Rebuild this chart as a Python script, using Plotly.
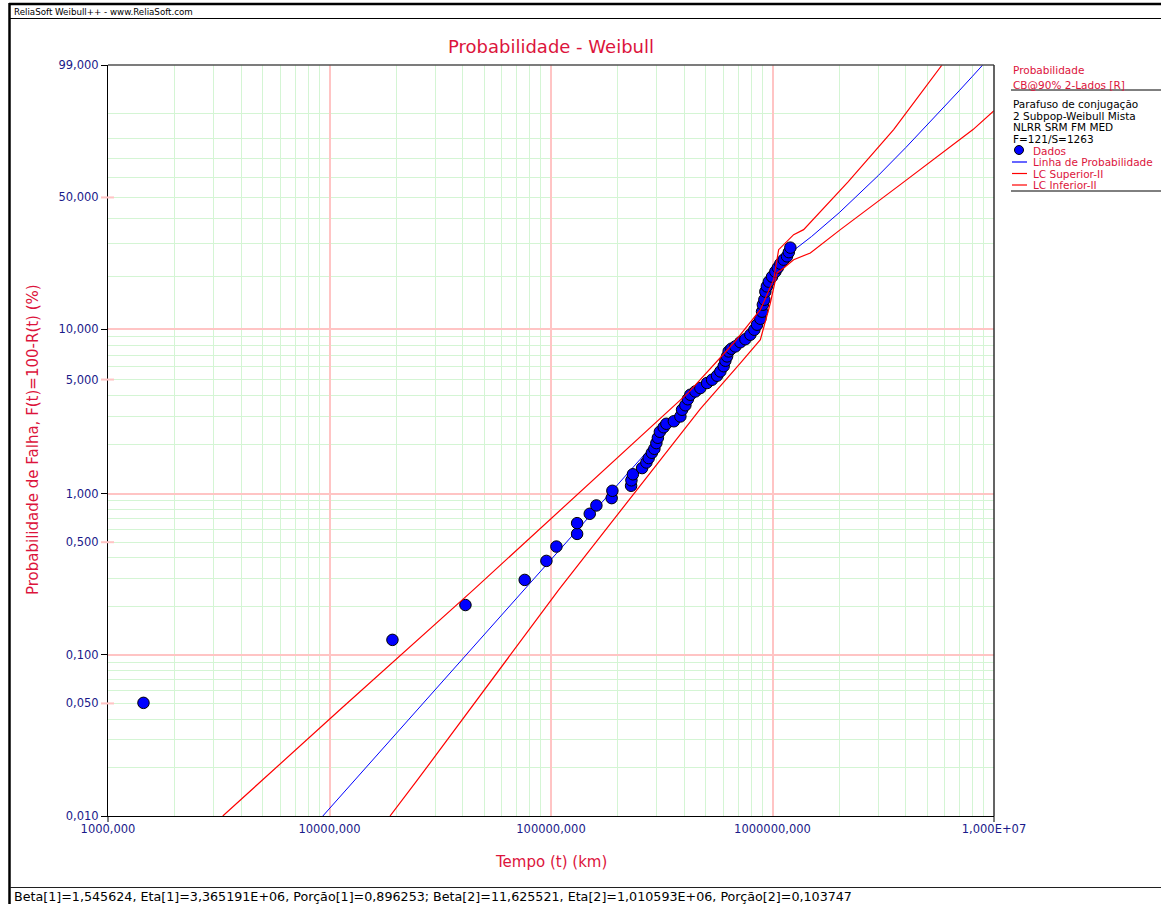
import numpy as np
import plotly.graph_objects as go

# ---------------- data ----------------
# failure points (Tempo in km, F(t) in %)
dados_t = [1446, 19240, 41090, 76070, 95330, 105800, 131200, 131200, 149600, 160300,
           187900, 189300, 229900, 230700, 234300, 257800, 269600, 276100, 285400, 292900,
           299000, 303800, 310100, 322600, 331800, 358700, 383800, 390600, 404200, 414800,
           425700, 448500, 472400, 506500, 533600, 562000, 581600, 601900, 612600, 623600,
           634000, 652100, 679700, 716000, 754100, 794300, 828200, 851800, 881500, 897100,
           904600, 918800, 928400, 943000, 962800, 995400, 1030000, 1057000, 1085000, 1123000,
           1163000, 1185000, 1204000]
dados_f = [0.0504, 0.124, 0.204, 0.292, 0.383, 0.470, 0.563, 0.656, 0.750, 0.844,
           0.937, 1.040, 1.117, 1.207, 1.315, 1.436, 1.555, 1.655, 1.784, 1.888,
           2.047, 2.207, 2.402, 2.560, 2.689, 2.786, 2.981, 3.276, 3.490, 3.796,
           4.044, 4.235, 4.441, 4.763, 4.987, 5.273, 5.598, 6.017, 6.493, 6.891,
           7.382, 7.662, 7.908, 8.376, 8.728, 9.280, 9.932, 10.63, 11.52, 12.66,
           13.89, 14.84, 16.49, 17.66, 18.77, 20.01, 21.32, 22.43, 23.58, 24.78,
           25.81, 27.17, 28.69]

# probability line
linha_t = [9331, 10000, 20000, 50000, 100000, 200000, 300000, 400000, 500000, 600000,
           700000, 800000, 900000, 950000, 1000000, 1050000, 1100000, 1150000, 1200000,
           1300000, 1500000, 2000000, 3000000, 4000000, 5000000, 6000000, 7000000,
           8000000, 9000000]
linha_f = [0.0100, 0.01113, 0.0325, 0.1339, 0.3902, 1.135, 2.111, 3.272, 4.587, 6.049,
           7.720, 9.884, 13.32, 15.83, 18.83, 21.85, 24.24, 25.78, 26.85,
           28.78, 32.72, 42.71, 61.2, 75.72, 85.83, 92.22, 95.97,
           98.02, 99.08]

# upper confidence bound
sup_t = [3298, 11205, 44630, 195300, 418300, 667700, 881500, 1012000, 1066000,
         1246000, 1382000, 2199000, 3523000, 5826000]
sup_f = [0.0100, 0.0460, 0.2533, 1.616, 4.176, 8.285, 13.00, 19.26, 28.00,
         33.45, 35.43, 58.07, 83.94, 99.0]

# lower confidence bound
inf_t = [18760, 24950, 108300, 311800, 472400, 716000, 881500, 977900, 1048000,
         1123000, 1246000, 1482000, 2025000, 3776000, 8040000, 10000000]
inf_f = [0.0100, 0.01674, 0.2533, 1.616, 3.322, 6.290, 8.668, 14.21, 20.98,
         22.34, 24.78, 26.91, 35.43, 56.51, 83.94, 90.9]

# axis ticks
y_tick_pct = [0.01, 0.05, 0.1, 0.5, 1, 5, 10, 50, 99]
y_tick_text = ["0,010", "0,050", "0,100", "0,500", "1,000", "5,000", "10,000", "50,000", "99,000"]
y_pink_tick_pct = [0.05, 0.5, 5, 50]
y_major_grid_pct = [0.1, 1, 10]
y_minor_grid_pct = [0.02, 0.03, 0.04, 0.05, 0.06, 0.07, 0.08, 0.09,
                    0.2, 0.3, 0.4, 0.5, 0.6, 0.7, 0.8, 0.9,
                    2, 3, 4, 5, 6, 7, 8, 9,
                    20, 30, 40, 50, 60, 70, 80, 90]
x_tick_vals = [1e3, 1e4, 1e5, 1e6, 1e7]
x_tick_text = ["1000,000", "10000,000", "100000,000", "1000000,000", "1,000E+07"]
x_minor_grid = [2e3, 3e3, 4e3, 5e3, 6e3, 7e3, 8e3, 9e3,
                2e4, 3e4, 4e4, 5e4, 6e4, 7e4, 8e4, 9e4,
                2e5, 3e5, 4e5, 5e5, 6e5, 7e5, 8e5, 9e5,
                2e6, 3e6, 4e6, 5e6, 6e6, 7e6, 8e6, 9e6]

params_text = ("Beta[1]=1,545624, Eta[1]=3,365191E+06, Porção[1]=0,896253; "
               "Beta[2]=11,625521, Eta[2]=1,010593E+06, Porção[2]=0,103747")


# ---------------- Weibull probability scale ----------------
def wb(pct):
    p = np.asarray(pct, dtype=float) / 100.0
    return np.log(-np.log(1.0 - p))


W, H = 1161, 904
L, R, T, B = 108, 994, 65, 816


def px(x):
    return (x - L) / (R - L)


def py(y):
    return (B - y) / (B - T)


FONT = "DejaVu Sans"
CRIMSON = "#DC143C"
NAVY = "#1a1a8a"
GREEN = "#d4f5d4"
PINK = "#ffc4c4"

ymin, ymax = float(wb(0.01)), float(wb(99))

fig = go.Figure()
fig.add_trace(go.Scatter(x=[], y=[], yaxis="y2", showlegend=False, hoverinfo="skip"))
fig.add_trace(go.Scatter(x=linha_t, y=wb(linha_f), mode="lines",
                         line=dict(color="#0000ff", width=1), name="Linha de Probabilidade"))
fig.add_trace(go.Scatter(x=dados_t, y=wb(dados_f), mode="markers",
                         marker=dict(color="#0000ff", size=11.5, line=dict(color="black", width=1)),
                         name="Dados"))
fig.add_trace(go.Scatter(x=sup_t, y=wb(sup_f), mode="lines",
                         line=dict(color="#ff0000", width=1.2), name="LC Superior-II"))
fig.add_trace(go.Scatter(x=inf_t, y=wb(inf_f), mode="lines",
                         line=dict(color="#ff0000", width=1.2), name="LC Inferior-II"))

shapes = []
# plot frame top / right
shapes.append(dict(type="line", xref="paper", yref="paper", x0=0, x1=1, y0=1, y1=1,
                   line=dict(color="#505050", width=1.5)))
shapes.append(dict(type="line", xref="paper", yref="paper", x0=1, x1=1, y0=0, y1=1,
                   line=dict(color="#303030", width=1.5)))
# x end ticks
for xv in (0, 1):
    shapes.append(dict(type="line", xref="paper", yref="paper", x0=xv, x1=xv, y0=0, y1=py(822),
                       line=dict(color="black", width=1)))
# pink y ticks
for v in y_pink_tick_pct:
    shapes.append(dict(type="line", xref="paper", yref="y", x0=px(101), x1=px(114),
                       y0=float(wb(v)), y1=float(wb(v)), line=dict(color=PINK, width=2)))
# outer frame
shapes.append(dict(type="line", xref="paper", yref="paper", x0=px(9), x1=px(1161), y0=py(4), y1=py(4),
                   line=dict(color="black", width=2.5)))
shapes.append(dict(type="line", xref="paper", yref="paper", x0=px(9.5), x1=px(9.5), y0=py(3), y1=py(904),
                   line=dict(color="black", width=2.5)))
shapes.append(dict(type="line", xref="paper", yref="paper", x0=px(10), x1=px(1161), y0=py(18.5), y1=py(18.5),
                   line=dict(color="black", width=1)))
shapes.append(dict(type="line", xref="paper", yref="paper", x0=px(10), x1=px(1161), y0=py(887.5), y1=py(887.5),
                   line=dict(color="#202020", width=1)))
# legend rules
for yy in (90, 191):
    shapes.append(dict(type="line", xref="paper", yref="paper", x0=px(1011), x1=px(1161), y0=py(yy), y1=py(yy),
                       line=dict(color="black", width=1)))
# legend symbols
shapes.append(dict(type="circle", xref="paper", yref="paper", x0=px(1014.5), x1=px(1023.5),
                   y0=py(154.5), y1=py(145.5), fillcolor="#0000ff", line=dict(color="black", width=1)))
for yy, col in ((162, "#0000ff"), (173.5, "#ff0000"), (185, "#ff0000")):
    shapes.append(dict(type="line", xref="paper", yref="paper", x0=px(1012), x1=px(1027), y0=py(yy), y1=py(yy),
                       line=dict(color=col, width=1.2)))

ann = []
ann.append(dict(text="ReliaSoft Weibull++ - www.ReliaSoft.com", x=px(12), y=py(12), xanchor="left",
                yanchor="middle", font=dict(size=8.7, color="black")))
ann.append(dict(text="Probabilidade - Weibull", x=0.5, y=py(47), xanchor="center", yanchor="middle",
                font=dict(size=18, color=CRIMSON)))
ann.append(dict(text="Probabilidade de Falha, F(t)=100-R(t) (%)", x=px(33), y=py(440), textangle=-90,
                xanchor="center", yanchor="middle", font=dict(size=15, color=CRIMSON)))
ann.append(dict(text="Tempo (t) (km)", x=0.5, y=py(862), xanchor="center", yanchor="middle",
                font=dict(size=15, color=CRIMSON)))
ann.append(dict(text=params_text, x=px(12), y=py(896), xanchor="left", yanchor="middle",
                font=dict(size=12.7, color="black")))
leg = [("Probabilidade", 70.5, CRIMSON, 1011), ("CB@90% 2-Lados [R]", 84.5, CRIMSON, 1011),
       ("Parafuso de conjugação", 103.5, "black", 1011), ("2 Subpop-Weibull Mista", 115.5, "black", 1011),
       ("NLRR SRM FM MED", 127, "black", 1011), ("F=121/S=1263", 138.5, "black", 1011),
       ("Dados", 150.5, CRIMSON, 1031), ("Linha de Probabilidade", 162, CRIMSON, 1031),
       ("LC Superior-II", 173.5, CRIMSON, 1031), ("LC Inferior-II", 185, CRIMSON, 1031)]
for txt, yy, col, xx in leg:
    ann.append(dict(text=txt, x=px(xx), y=py(yy), xanchor="left", yanchor="middle",
                    font=dict(size=10.5, color=col)))
for a in ann:
    a.update(xref="paper", yref="paper", showarrow=False)

fig.update_layout(
    width=W, height=H, autosize=False,
    margin=dict(l=L, r=W - R, t=T, b=H - B, pad=0),
    paper_bgcolor="white", plot_bgcolor="white",
    font=dict(family=FONT, size=11, color="black"),
    showlegend=False,
    xaxis=dict(type="log", range=[3, 7], tickmode="array", tickvals=x_tick_vals, ticktext=x_tick_text,
               tickfont=dict(size=11.5, color=NAVY, family=FONT), ticks="outside", ticklen=2,
               tickcolor="rgba(0,0,0,0)", showgrid=True,
               gridcolor=PINK, gridwidth=2, showline=True, linecolor="black", linewidth=1,
               zeroline=False,
               minor=dict(tickvals=x_minor_grid, showgrid=True, gridcolor=GREEN, gridwidth=1, ticks="")),
    yaxis=dict(range=[ymin, ymax], tickmode="array", tickvals=list(wb(y_tick_pct)), ticktext=y_tick_text,
               tickfont=dict(size=11.5, color=NAVY, family=FONT), ticks="outside", ticklen=6,
               tickcolor="black", showgrid=False, showline=True, linecolor="black", linewidth=1,
               zeroline=False,
               minor=dict(tickvals=list(wb(y_minor_grid_pct)), showgrid=True, gridcolor=GREEN,
                          gridwidth=1, ticks="")),
    yaxis2=dict(range=[ymin, ymax], overlaying="y", side="left", tickmode="array",
                tickvals=list(wb(y_major_grid_pct)), showticklabels=False, ticks="", showgrid=True,
                gridcolor=PINK, gridwidth=2, zeroline=False, showline=False),
    shapes=shapes, annotations=ann,
)

fig.write_html("out.html", config={"displayModeBar": False},
               post_script="document.body.style.margin='0';")
